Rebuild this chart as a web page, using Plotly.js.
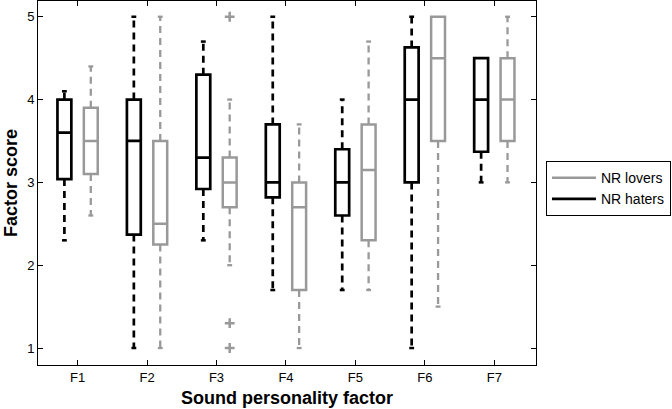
<!DOCTYPE html>
<html>
<head>
<meta charset="utf-8">
<script src="https://cdn.plot.ly/plotly-3.0.1.min.js"></script>
<style>html,body{margin:0;padding:0;background:#fff}#chart{width:672px;height:409px}</style>
</head>
<body>
<div id="chart"></div>
<script>
// Data
var factors = ["F1","F2","F3","F4","F5","F6","F7"];
// NR haters (black)
var hatLo  = [2.3, 1.0, 2.3, 1.7, 1.7, 1.0, 3.0];
var hatQ1  = [3.04, 2.37, 2.92, 2.82, 2.6, 3.0, 3.37];
var hatMed = [3.6, 3.5, 3.3, 3.0, 3.0, 4.0, 4.0];
var hatQ3  = [4.0, 4.0, 4.3, 3.7, 3.4, 4.63, 4.5];
var hatHi  = [4.1, 5.0, 4.7, 5.0, 4.0, 5.0, 4.5];
// NR lovers (gray)
var lovLo  = [2.6, 1.0, 2.0, 1.0, 1.7, 1.5, 3.0];
var lovQ1  = [3.1, 2.25, 2.7, 1.7, 2.3, 3.5, 3.5];
var lovMed = [3.5, 2.5, 3.0, 2.7, 3.15, 4.5, 4.0];
var lovQ3  = [3.9, 3.5, 3.3, 3.0, 3.7, 5.0, 4.5];
var lovHi  = [4.4, 5.0, 4.0, 3.7, 4.7, 5.0, 5.0];
// Outliers (NR lovers, F3)
var outFactor = ["F3","F3","F3"];
var outVal = [5.0, 1.3, 1.0];

var BLACK = "#000000", GRAY = "#999999";
var OFF = 0.19, BW = 0.2, CAP = 0.035;

function pos(sign){ return factors.map(function(f,i){ return i + 1 + sign*OFF; }); }
var hatX = pos(-1), lovX = pos(1);

function boxTrace(xs, q1, med, q3, color, w){
  return {type:"box", x:xs, q1:q1, median:med, q3:q3, lowerfence:q1, upperfence:q3,
    width:BW, boxpoints:false, fillcolor:"rgba(255,255,255,0)", whiskerwidth:0,
    line:{color:color, width:w}, showlegend:false, hoverinfo:"skip"};
}
function whiskers(xs, q1, q3, lo, hi, color, w){
  var x=[], y=[];
  xs.forEach(function(p,i){
    if (hi[i] > q3[i]) { x.push(p,p,null); y.push(q3[i],hi[i],null); }
    if (lo[i] < q1[i]) { x.push(p,p,null); y.push(q1[i],lo[i],null); }
  });
  return {type:"scatter", mode:"lines", x:x, y:y, line:{color:color, width:w, dash:"7px,5px"}, showlegend:false, hoverinfo:"skip"};
}
function caps(xs, q1, q3, lo, hi, color, w){
  var x=[], y=[];
  xs.forEach(function(p,i){
    if (hi[i] > q3[i]) { x.push(p-CAP,p+CAP,null); y.push(hi[i],hi[i],null); }
    if (lo[i] < q1[i]) { x.push(p-CAP,p+CAP,null); y.push(lo[i],lo[i],null); }
  });
  return {type:"scatter", mode:"lines", x:x, y:y, line:{color:color, width:w}, showlegend:false, hoverinfo:"skip"};
}

var outX = outFactor.map(function(f){ return factors.indexOf(f) + 1 + OFF; });

var data = [
  whiskers(hatX, hatQ1, hatQ3, hatLo, hatHi, BLACK, 2.7),
  caps(hatX, hatQ1, hatQ3, hatLo, hatHi, BLACK, 2.5),
  whiskers(lovX, lovQ1, lovQ3, lovLo, lovHi, GRAY, 2.3),
  caps(lovX, lovQ1, lovQ3, lovLo, lovHi, GRAY, 2.3),
  boxTrace(hatX, hatQ1, hatMed, hatQ3, BLACK, 2.7),
  boxTrace(lovX, lovQ1, lovMed, lovQ3, GRAY, 2.5),
  {type:"scatter", mode:"markers", x:outX, y:outVal, marker:{symbol:"cross-thin", size:7, line:{color:GRAY, width:2.5}}, showlegend:false, hoverinfo:"skip"},
  {type:"scatter", mode:"lines", x:[null], y:[null], name:"NR lovers", line:{color:GRAY, width:2.7}},
  {type:"scatter", mode:"lines", x:[null], y:[null], name:"NR haters", line:{color:BLACK, width:2.7}}
];

var layout = {
  width:672, height:409,
  margin:{l:38, r:129, t:1, b:44},
  paper_bgcolor:"#fff", plot_bgcolor:"#fff",
  font:{family:"Liberation Sans, Arial, sans-serif", size:13, color:"#000"},
  showlegend:true,
  legend:{x:1.02, y:0.56, xanchor:"left", yanchor:"top", bordercolor:"#000", borderwidth:1,
    bgcolor:"#fff", font:{size:14}, itemwidth:44, tracegroupgap:0, traceorder:"normal"},
  xaxis:{range:[0.43, 7.6], tickvals:factors.map(function(f,i){return i+1;}), ticktext:factors,
    ticks:"inside", ticklen:5, tickcolor:"#000", showline:true, linecolor:"#000", linewidth:1, mirror:"ticks",
    showgrid:false, zeroline:false, tickfont:{size:13},
    title:{text:"<b>Sound personality factor</b>", font:{size:18}, standoff:7}},
  yaxis:{range:[0.795, 5.19], tickvals:[1,2,3,4,5], ticks:"inside", ticklen:5, tickcolor:"#000",
    showline:true, linecolor:"#000", linewidth:1, mirror:"ticks", showgrid:false, zeroline:false,
    tickfont:{size:13}, title:{text:"<b>Factor score</b>", font:{size:18}, standoff:4}}
};

Plotly.newPlot("chart", data, layout, {staticPlot:true, displayModeBar:false});
</script>
</body>
</html>
